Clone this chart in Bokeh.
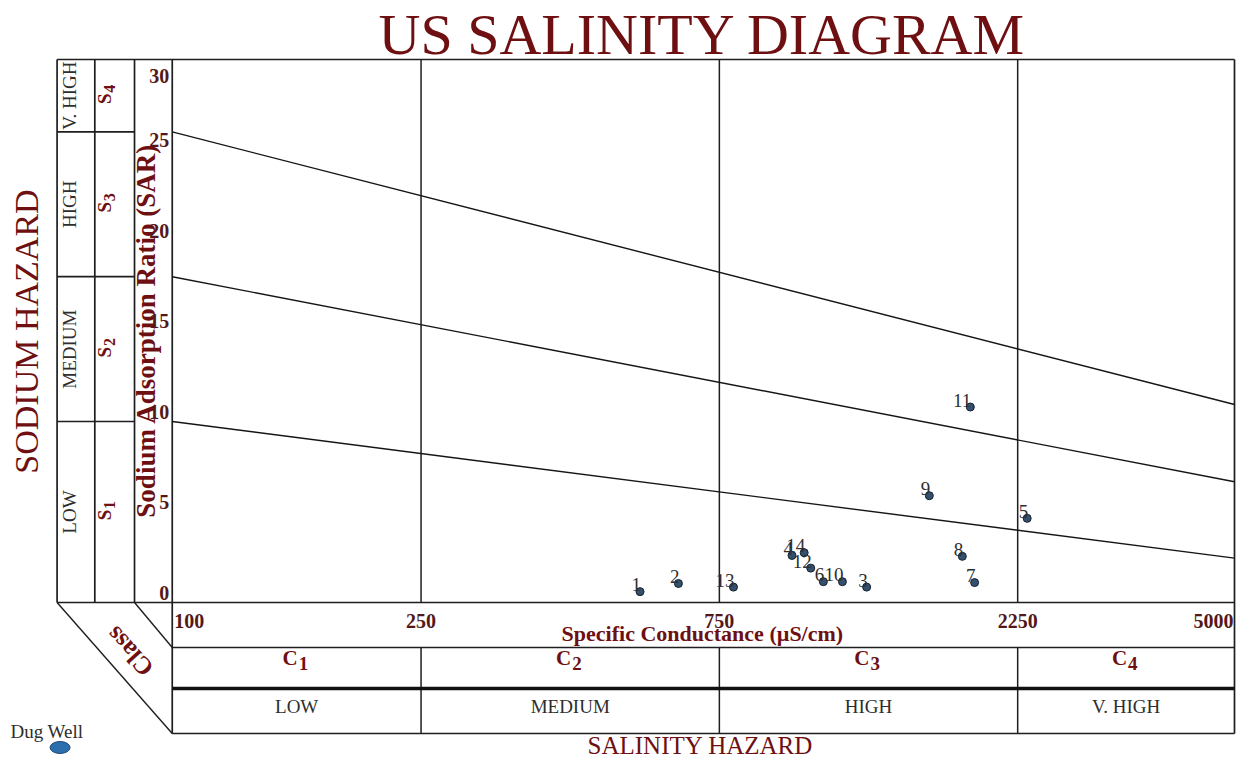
import math
from bokeh.plotting import figure
from bokeh.models import Range1d, LogScale
from bokeh.embed import file_html
from bokeh.resources import INLINE
from bokeh.core.properties import value

# ---------------- data ----------------
sample_ids = ["1", "2", "3", "4", "5", "6", "7", "8", "9", "10", "11", "12", "13", "14"]
ec_values = [560, 645, 1290, 980, 2330, 1100, 1920, 1835, 1625, 1180, 1890, 1050, 790, 1025]
sar_values = [0.6, 1.05, 0.85, 2.6, 4.65, 1.15, 1.1, 2.55, 5.9, 1.15, 10.8, 1.9, 0.85, 2.75]

ec_ticks = [100, 250, 750, 2250, 5000]          # salinity class bounds (uS/cm)
sar_ticks = [0, 5, 10, 15, 20, 25, 30]
sodium_bounds = [0, 10, 18, 26, 30]             # SAR class bounds at EC = 100
salinity_subs = ["1", "2", "3", "4"]
salinity_levels = ["LOW", "MEDIUM", "HIGH", "V. HIGH"]
sodium_subs = ["1", "2", "3", "4"]
sodium_levels = ["LOW", "MEDIUM", "HIGH", "V. HIGH"]
boundary_sar_at_100 = [10, 18, 26]
boundary_sar_at_5000 = [2.45, 6.67, 10.94]

# ---------------- layout (canvas pixels) ----------------
W, H = 1236, 760
SX = 1234.0 / 1243.0          # squeeze horizontally so the right border fits


def X(px):
    return px * SX


def Y(py):
    return H - py


PX_EC_LO, PX_EC_HI = X(173), X(1243)
PY_SAR0, PY_SAR30 = 602, 59

ppd = (PX_EC_HI - PX_EC_LO) / math.log10(ec_ticks[-1] / ec_ticks[0])
ec_start = ec_ticks[0] * 10 ** ((0 - PX_EC_LO) / ppd)
ec_end = ec_ticks[0] * 10 ** ((W - PX_EC_LO) / ppd)
ppu = (PY_SAR0 - PY_SAR30) / 30.0
sar_start = (0 - Y(PY_SAR0)) / ppu
sar_end = (H - Y(PY_SAR0)) / ppu

SERIF = value("Liberation Serif")
DARK_RED = "#6e1012"
TICK_RED = "#541818"
GRAY_TXT = "#2e2e2e"
LINE = "#1e1e1e"

p = figure(width=W, height=H, x_range=Range1d(0, W), y_range=Range1d(0, H),
           output_backend="svg", toolbar_location=None, min_border=0,
           x_axis_location=None, y_axis_location=None,
           outline_line_color=None, background_fill_color="white",
           border_fill_color="white")
p.extra_x_ranges = {"ec": Range1d(ec_start, ec_end)}
p.extra_x_scales = {"ec": LogScale()}
p.extra_y_ranges = {"sar": Range1d(sar_start, sar_end)}
p.grid.visible = False

# ---------------- frame lines ----------------
col_x = [X(57), X(95), X(135)]
p.segment(x0=col_x, y0=[0] * 3, x1=col_x, y1=[30] * 3, y_range_name="sar",
          line_color=LINE, line_width=1.7)
p.segment(x0=[col_x[0]] * 2, y0=[sar_ticks[0], sar_ticks[-1]], x1=[ec_ticks[-1]] * 2,
          y1=[sar_ticks[0], sar_ticks[-1]], y_range_name="sar", line_color=LINE,
          line_width=1.7)
# (the line above starts at pixel x but ends at EC 5000 -> draw in pixel space instead)
p.renderers[-1].data_source.data["x1"] = [PX_EC_HI] * 2
p.segment(x0=[col_x[0]] * 3, y0=sodium_bounds[1:4], x1=[col_x[2]] * 3, y1=sodium_bounds[1:4],
          y_range_name="sar", line_color=LINE, line_width=1.7)
p.segment(x0=[ec_ticks[0], ec_ticks[-1]], y0=[Y(59)] * 2, x1=[ec_ticks[0], ec_ticks[-1]],
          y1=[Y(733)] * 2, x_range_name="ec", line_color=LINE, line_width=1.7)
p.segment(x0=ec_ticks[1:4], y0=[0] * 3, x1=ec_ticks[1:4], y1=[30] * 3,
          x_range_name="ec", y_range_name="sar", line_color=LINE, line_width=1.5)
p.segment(x0=ec_ticks[1:4], y0=[Y(647)] * 3, x1=ec_ticks[1:4], y1=[Y(733)] * 3,
          x_range_name="ec", line_color=LINE, line_width=1.5)
p.segment(x0=[ec_ticks[0]] * 2, y0=[Y(647), Y(733)], x1=[ec_ticks[-1]] * 2,
          y1=[Y(647), Y(733)], x_range_name="ec", line_color=LINE, line_width=1.7)
p.segment(x0=[ec_ticks[0]], y0=[Y(688)], x1=[ec_ticks[-1]], y1=[Y(688)],
          x_range_name="ec", line_color="#111111", line_width=3.5)
p.segment(x0=[col_x[0], col_x[2]], y0=[Y(602), Y(602)], x1=[PX_EC_LO, PX_EC_LO],
          y1=[Y(733), Y(647)], line_color=LINE, line_width=1.4)

# ---------------- sodium hazard boundary lines ----------------
p.segment(x0=[ec_ticks[0]] * 3, y0=boundary_sar_at_100, x1=[ec_ticks[-1]] * 3,
          y1=boundary_sar_at_5000, x_range_name="ec", y_range_name="sar",
          line_color="#151515", line_width=1.4)

# ---------------- points ----------------
p.scatter(ec_values, sar_values, x_range_name="ec", y_range_name="sar", marker="circle",
          size=8, fill_color="#34506c", line_color="#15202e", line_width=1)
p.text(ec_values, sar_values, text=sample_ids, x_range_name="ec", y_range_name="sar",
       text_align="right", text_baseline="middle", x_offset=1, y_offset=-7,
       text_font=SERIF, text_font_size="19px", text_color=GRAY_TXT)

# ---------------- titles ----------------
p.text([X(707)], [Y(34)], text=["US SALINITY DIAGRAM"], text_align="center",
       text_baseline="middle", text_font=SERIF, text_font_size="58px", text_color=DARK_RED)
p.text([X(26)], [Y(331)], text=["SODIUM HAZARD"], angle=math.pi / 2, text_align="center",
       text_baseline="middle", text_font=SERIF, text_font_size="34px", text_color=DARK_RED)
p.text([X(147)], [Y(330)], text=["Sodium Adsorption Ratio (SAR)"], angle=math.pi / 2,
       text_align="center", text_baseline="middle", text_font=SERIF,
       text_font_size="27px", text_font_style="bold", text_color=DARK_RED)
p.text([X(707)], [Y(633)], text=["Specific Conductance (\u00b5S/cm)"], text_align="center",
       text_baseline="middle", text_font=SERIF, text_font_size="22px",
       text_font_style="bold", text_color=DARK_RED)
p.text([X(705)], [Y(745)], text=["SALINITY HAZARD"], text_align="center",
       text_baseline="middle", text_font=SERIF, text_font_size="25px", text_color=DARK_RED)
p.text([X(130)], [Y(651)], text=["Class"], angle=math.radians(132), text_align="center",
       text_baseline="middle", text_font=SERIF, text_font_size="25px",
       text_font_style="bold", text_color=DARK_RED)

# ---------------- tick labels ----------------
p.text([X(170)] * 6, sar_ticks[:-1], text=[str(v) for v in sar_ticks[:-1]],
       y_range_name="sar", text_align="right", text_baseline="middle",
       y_offset=-10, text_font=SERIF, text_font_size="20px",
       text_font_style="bold", text_color=TICK_RED)
p.text([X(170)], sar_ticks[-1:], text=[str(v) for v in sar_ticks[-1:]],
       y_range_name="sar", text_align="right", text_baseline="middle",
       y_offset=16, text_font=SERIF, text_font_size="20px",
       text_font_style="bold", text_color=TICK_RED)

xt_y = [Y(620)]
p.text(ec_ticks[:1], xt_y, text=[str(ec_ticks[0])], x_range_name="ec", text_align="left",
       text_baseline="middle", x_offset=2, text_font=SERIF, text_font_size="20px",
       text_font_style="bold", text_color=TICK_RED)
p.text(ec_ticks[1:4], xt_y * 3, text=[str(v) for v in ec_ticks[1:4]], x_range_name="ec",
       text_align="center", text_baseline="middle", text_font=SERIF,
       text_font_size="20px", text_font_style="bold", text_color=TICK_RED)
p.text(ec_ticks[-1:], xt_y, text=[str(ec_ticks[-1])], x_range_name="ec", text_align="right",
       text_baseline="middle", x_offset=-1, text_font=SERIF, text_font_size="20px",
       text_font_style="bold", text_color=TICK_RED)

# ---------------- salinity class table ----------------
cell_ec = [math.sqrt(ec_ticks[i] * ec_ticks[i + 1]) for i in range(4)]
p.text(cell_ec, [Y(657)] * 4, text=["C"] * 4, x_range_name="ec", text_align="right",
       text_baseline="middle", x_offset=1, text_font=SERIF, text_font_size="21px",
       text_font_style="bold", text_color=DARK_RED)
p.text(cell_ec, [Y(663)] * 4, text=salinity_subs, x_range_name="ec", text_align="left",
       text_baseline="middle", x_offset=2, text_font=SERIF, text_font_size="19px",
       text_font_style="bold", text_color=DARK_RED)
p.text(cell_ec, [Y(706)] * 4, text=salinity_levels, x_range_name="ec", text_align="center",
       text_baseline="middle", text_font=SERIF, text_font_size="19px", text_color=GRAY_TXT)

# ---------------- sodium class columns ----------------
cell_sar = [(sodium_bounds[i] + sodium_bounds[i + 1]) / 2 for i in range(4)]
p.text([X(69)] * 4, cell_sar, text=sodium_levels, y_range_name="sar", angle=math.pi / 2,
       text_align="center", text_baseline="middle", text_font=SERIF,
       text_font_size="19px", text_color=GRAY_TXT)
p.text([X(105)] * 4, cell_sar, text=["S"] * 4, y_range_name="sar", angle=math.pi / 2,
       text_align="center", text_baseline="middle", y_offset=3, text_font=SERIF,
       text_font_size="19px", text_font_style="bold", text_color=DARK_RED)
p.text([X(110)] * 4, cell_sar, text=sodium_subs, y_range_name="sar", angle=math.pi / 2,
       text_align="center", text_baseline="middle", y_offset=-7, text_font=SERIF,
       text_font_size="16px", text_font_style="bold", text_color=DARK_RED)

# ---------------- legend ----------------
p.text([X(10)], [Y(731)], text=["Dug Well"], text_align="left", text_baseline="middle",
       text_font=SERIF, text_font_size="19px", text_color=GRAY_TXT)
p.ellipse([X(60)], [Y(747)], width=20, height=12, fill_color="#2b6fae",
          line_color="#1d4a78", line_width=1)

open("out.html", "w").write(file_html(p, INLINE))
